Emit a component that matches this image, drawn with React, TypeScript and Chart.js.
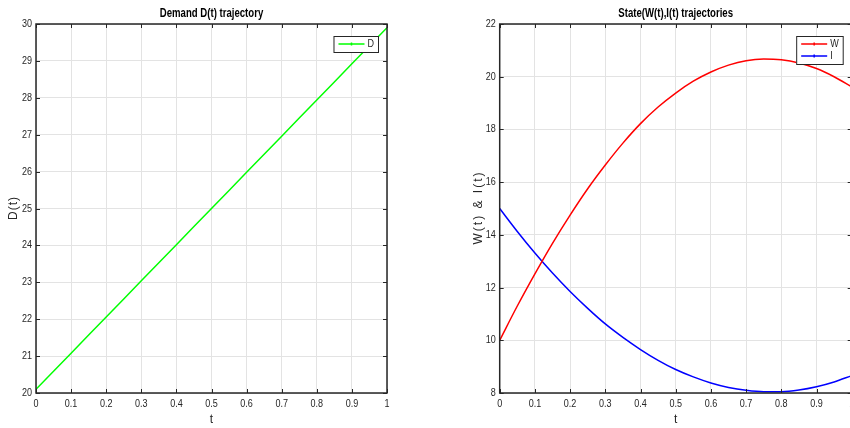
import React, { useEffect, useRef } from "react";
import { Chart, registerables } from "chart.js";
Chart.register(...registerables);

const T = [0, 0.05, 0.1, 0.15, 0.2, 0.25, 0.3, 0.35, 0.4, 0.45, 0.5, 0.55, 0.6, 0.65, 0.7, 0.75, 0.8, 0.85, 0.9, 0.95, 1];
const D = [20.1, 20.59, 21.08, 21.57, 22.06, 22.55, 23.04, 23.53, 24.02, 24.51, 25.0, 25.49, 25.98, 26.47, 26.96, 27.45, 27.94, 28.43, 28.92, 29.41, 29.9];
const W = [10.0, 11.3, 12.52, 13.68, 14.75, 15.75, 16.65, 17.48, 18.22, 18.85, 19.38, 19.83, 20.18, 20.44, 20.61, 20.67, 20.64, 20.52, 20.31, 20.0, 19.62];
const I = [15.0, 14.13, 13.31, 12.55, 11.85, 11.21, 10.62, 10.11, 9.65, 9.24, 8.89, 8.61, 8.38, 8.21, 8.1, 8.045, 8.05, 8.115, 8.24, 8.42, 8.66];

const LEFT_TITLE = "Demand D(t) trajectory";
const RIGHT_TITLE = "State(W(t),I(t) trajectories";
const X_LABEL = "t";
const LEFT_Y_LABEL = "D(t)";
const RIGHT_Y_LABEL = "W(t) & I(t)";

const FONT = "'Liberation Sans', Arial, sans-serif";
const AXIS_COLOR = "#262626";
const GRID_COLOR = "#e3e3e3";
const NARROW = 0.82;

function pts(ys: number[]) {
  return T.map((t, i) => ({ x: t, y: ys[i] }));
}

function scaledText(ctx: any, text: string, x: number, y: number, align: string, sx: number) {
  ctx.save();
  ctx.translate(x, y);
  ctx.scale(sx, 1);
  ctx.textAlign = align;
  ctx.textBaseline = "middle";
  ctx.fillText(text, 0, 0);
  ctx.restore();
}

function makePlugin(title: string, yLabel: string, yLabelX: number, ySpacing: number) {
  return {
    id: "matlabDecor",
    afterDraw(chart: any) {
      const { ctx, chartArea } = chart;
      const { left, right, top, bottom } = chartArea;
      const xs = chart.scales.x;
      const ys = chart.scales.y;
      ctx.save();
      // box
      ctx.strokeStyle = AXIS_COLOR;
      ctx.lineWidth = 1.5;
      ctx.strokeRect(left, top, right - left, bottom - top);
      // inward ticks
      ctx.lineWidth = 1;
      ctx.beginPath();
      xs.ticks.forEach((tk: any) => {
        const px = Math.round(xs.getPixelForValue(tk.value)) + 0.5;
        ctx.moveTo(px, bottom);
        ctx.lineTo(px, bottom - 4);
        ctx.moveTo(px, top);
        ctx.lineTo(px, top + 4);
      });
      ys.ticks.forEach((tk: any) => {
        const py = Math.round(ys.getPixelForValue(tk.value)) + 0.5;
        ctx.moveTo(left, py);
        ctx.lineTo(left + 4, py);
        ctx.moveTo(right, py);
        ctx.lineTo(right - 4, py);
      });
      ctx.stroke();
      // tick labels
      ctx.fillStyle = AXIS_COLOR;
      ctx.font = `11px ${FONT}`;
      xs.ticks.forEach((tk: any) => {
        const px = xs.getPixelForValue(tk.value);
        scaledText(ctx, String(Number(tk.value.toFixed(1))), px, 404, "center", NARROW);
      });
      ys.ticks.forEach((tk: any) => {
        const py = ys.getPixelForValue(tk.value);
        scaledText(ctx, String(Number(tk.value.toFixed(1))), left - 4, py, "right", NARROW);
      });
      // x label
      ctx.font = `12px ${FONT}`;
      scaledText(ctx, X_LABEL, (left + right) / 2, 420, "center", 1);
      // y label
      ctx.save();
      ctx.translate(yLabelX, (top + bottom) / 2);
      ctx.rotate(-Math.PI / 2);
      ctx.font = `12px ${FONT}`;
      (ctx as any).letterSpacing = `${ySpacing}px`;
      ctx.textAlign = "center";
      ctx.textBaseline = "middle";
      ctx.fillText(yLabel, ySpacing / 2, 0);
      ctx.restore();
      // title
      ctx.fillStyle = "#000";
      ctx.font = `bold 12px ${FONT}`;
      scaledText(ctx, title, (left + right) / 2, 13.5, "center", 0.8);
      // legend
      const dsets = chart.data.datasets;
      ctx.font = `11px ${FONT}`;
      let maxW = 0;
      dsets.forEach((d: any) => {
        maxW = Math.max(maxW, ctx.measureText(d.label).width * NARROW);
      });
      const boxW = 5 + 26 + 3 + maxW + 4;
      const boxH = 4 + dsets.length * 12;
      const bx = right - 9 - boxW;
      const by = top + 12;
      ctx.fillStyle = "#fff";
      ctx.fillRect(bx, by, boxW, boxH);
      ctx.strokeStyle = AXIS_COLOR;
      ctx.lineWidth = 1;
      ctx.strokeRect(bx + 0.5, by + 0.5, boxW, boxH);
      dsets.forEach((d: any, i: number) => {
        const cy = by + 8 + i * 12;
        ctx.strokeStyle = d.borderColor;
        ctx.lineWidth = 1.5;
        ctx.beginPath();
        ctx.moveTo(bx + 5, cy);
        ctx.lineTo(bx + 31, cy);
        ctx.moveTo(bx + 18, cy - 1.5);
        ctx.lineTo(bx + 18, cy + 1.5);
        ctx.stroke();
        ctx.fillStyle = AXIS_COLOR;
        scaledText(ctx, d.label, bx + 34, cy, "left", NARROW);
      });
      ctx.restore();
    },
  };
}

function baseScales(yMin: number, yMax: number, yStep: number, yWidth: number) {
  return {
    x: {
      type: "linear",
      min: 0,
      max: 1,
      afterFit: (s: any) => {
        s.height = 35;
      },
      ticks: { stepSize: 0.1, autoSkip: false, maxRotation: 0, display: false },
      grid: { color: GRID_COLOR, drawTicks: false, lineWidth: 1 },
      border: { display: false },
    },
    y: {
      type: "linear",
      min: yMin,
      max: yMax,
      afterFit: (s: any) => {
        s.width = yWidth;
      },
      ticks: { stepSize: yStep, autoSkip: false, display: false },
      grid: { color: GRID_COLOR, drawTicks: false, lineWidth: 1 },
      border: { display: false },
    },
  };
}

function LeftChart() {
  const ref = useRef<HTMLCanvasElement>(null);
  useEffect(() => {
    const chart = new Chart(ref.current as HTMLCanvasElement, {
      type: "line",
      data: {
        datasets: [
          {
            label: "D",
            data: pts(D),
            borderColor: "#00ff00",
            backgroundColor: "#00ff00",
            borderWidth: 1.5,
            pointRadius: 0,
            tension: 0,
          },
        ],
      },
      options: {
        responsive: false,
        animation: false,
        devicePixelRatio: 1,
        layout: { padding: { left: 0, top: 24, right: 43, bottom: 0 } },
        plugins: { legend: { display: false }, title: { display: false }, tooltip: { enabled: false } },
        scales: baseScales(20, 30, 1, 36) as any,
      },
      plugins: [makePlugin(LEFT_TITLE, LEFT_Y_LABEL, 13.5, 1)],
    } as any);
    return () => chart.destroy();
  }, []);
  return (
    <canvas
      ref={ref}
      width={430}
      height={428}
      style={{ position: "absolute", left: 0, top: 0, width: 430, height: 428 }}
    />
  );
}

function RightChart() {
  const ref = useRef<HTMLCanvasElement>(null);
  useEffect(() => {
    const chart = new Chart(ref.current as HTMLCanvasElement, {
      type: "line",
      data: {
        datasets: [
          {
            label: "W",
            data: pts(W),
            borderColor: "#ff0000",
            backgroundColor: "#ff0000",
            borderWidth: 1.5,
            pointRadius: 0,
            cubicInterpolationMode: "monotone",
          },
          {
            label: "I",
            data: pts(I),
            borderColor: "#0000ff",
            backgroundColor: "#0000ff",
            borderWidth: 1.5,
            pointRadius: 0,
            cubicInterpolationMode: "monotone",
          },
        ],
      },
      options: {
        responsive: false,
        animation: false,
        devicePixelRatio: 1,
        layout: { padding: { left: 0, top: 24, right: 13.3, bottom: 0 } },
        plugins: { legend: { display: false }, title: { display: false }, tooltip: { enabled: false } },
        scales: baseScales(8, 22, 2, 74.7) as any,
      },
      plugins: [makePlugin(RIGHT_TITLE, RIGHT_Y_LABEL, 53.5, 2)],
    } as any);
    return () => chart.destroy();
  }, []);
  return (
    <canvas
      ref={ref}
      width={440}
      height={428}
      style={{ position: "absolute", left: 425, top: 0, width: 440, height: 428 }}
    />
  );
}

export default function App() {
  return (
    <div
      style={{
        position: "fixed",
        left: 0,
        top: 0,
        width: 850,
        height: 428,
        overflow: "hidden",
        background: "#fff",
      }}
    >
      <LeftChart />
      <RightChart />
    </div>
  );
}
